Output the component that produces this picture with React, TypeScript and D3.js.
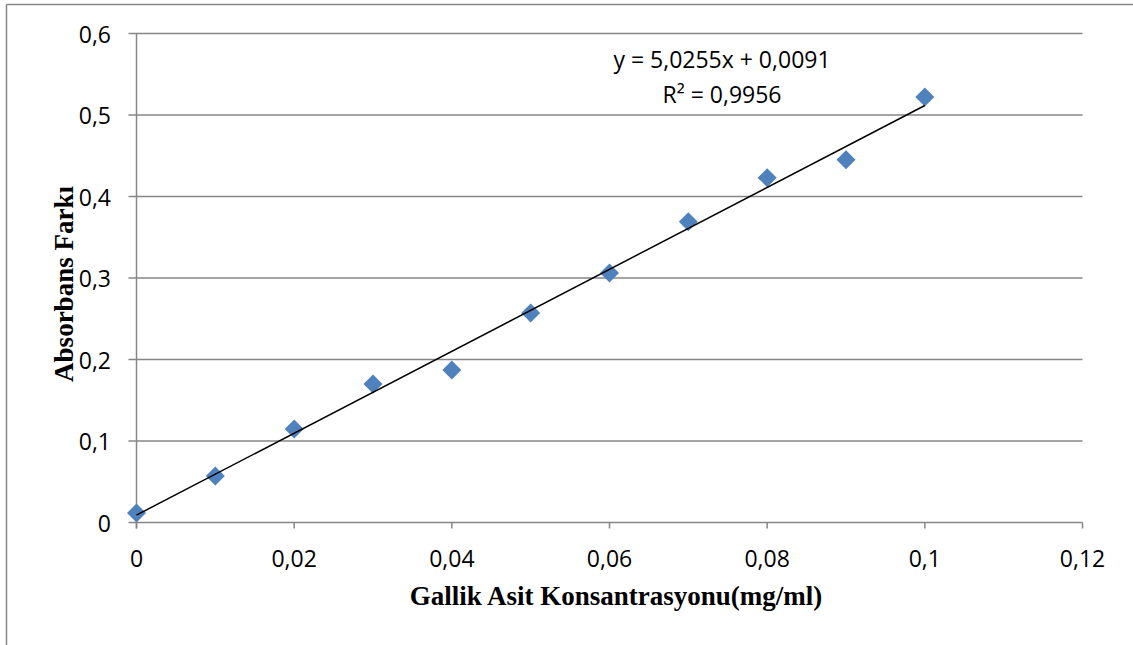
import React from "react";
import * as d3 from "d3";

// Gallic acid calibration data
const concentrations = [0, 0.01, 0.02, 0.03, 0.04, 0.05, 0.06, 0.07, 0.08, 0.09, 0.1];
const absorbance = [0.0117, 0.057, 0.1147, 0.170, 0.187, 0.257, 0.306, 0.369, 0.423, 0.445, 0.522];
const xTicks = [0, 0.02, 0.04, 0.06, 0.08, 0.1, 0.12];
const yTicks = [0, 0.1, 0.2, 0.3, 0.4, 0.5, 0.6];
const slope = 5.0255;
const intercept = 0.0091;
const equationText = "y = 5,0255x + 0,0091";
const r2Text = "R² = 0,9956";
const xTitle = "Gallik Asit Konsantrasyonu(mg/ml)";
const yTitle = "Absorbans Farkı";

const W = 1133;
const H = 645;
const plot = { left: 136.5, right: 1082.5, top: 33.5, bottom: 522.5 };

const fmt = (v: number) => String(+v.toFixed(2)).replace(".", ",");

export default function App() {
  const x = d3.scaleLinear().domain([0, 0.12]).range([plot.left, plot.right]);
  const y = d3.scaleLinear().domain([0, 0.6]).range([plot.bottom, plot.top]);
  const gray = "#868686";
  const tickFont = "'Open Sans', sans-serif";
  const titleFont = "'Liberation Serif', 'Times New Roman', serif";
  const trend = d3.line<number>().x((d) => x(d)).y((d) => y(slope * d + intercept));
  const diamond = d3.symbol().type(d3.symbolDiamond2).size(230)();

  return (
    <svg
      width={W}
      height={H}
      style={{ position: "fixed", left: 0, top: 0, background: "#fff" }}
    >
      {/* outer chart frame */}
      <line x1={6.5} y1={4.5} x2={W} y2={4.5} stroke={gray} strokeWidth={1.5} />
      <line x1={6.5} y1={4.5} x2={6.5} y2={H} stroke={gray} strokeWidth={1.5} />

      {/* horizontal gridlines with y ticks */}
      {yTicks.map((t) => (
        <g key={"y" + t}>
          <line x1={plot.left - 8} x2={plot.right} y1={y(t)} y2={y(t)} stroke={gray} strokeWidth={1.5} />
          <text
            x={111}
            y={y(t)}
            textAnchor="end"
            dominantBaseline="central"
            fontFamily={tickFont}
            fontSize={23}
            fill="#000"
          >
            {fmt(t)}
          </text>
        </g>
      ))}

      {/* axes */}
      <line x1={plot.left} x2={plot.left} y1={plot.top} y2={plot.bottom + 6} stroke={gray} strokeWidth={1.5} />
      {xTicks.map((t) => (
        <g key={"x" + t}>
          <line x1={x(t)} x2={x(t)} y1={plot.bottom} y2={plot.bottom + 6} stroke={gray} strokeWidth={1.5} />
          <text
            x={x(t)}
            y={567}
            textAnchor="middle"
            fontFamily={tickFont}
            fontSize={23}
            fill="#000"
          >
            {fmt(t)}
          </text>
        </g>
      ))}

      {/* markers */}
      {concentrations.map((c, i) => (
        <path
          key={"p" + i}
          d={diamond ?? ""}
          transform={`translate(${x(c)},${y(absorbance[i])})`}
          fill="#4F81BD"
        />
      ))}

      {/* linear trendline */}
      <path
        d={trend([concentrations[0], concentrations[concentrations.length - 1]]) ?? ""}
        fill="none"
        stroke="#000"
        strokeWidth={1.5}
      />

      {/* regression equation */}
      <text x={722} y={68} textAnchor="middle" fontFamily={tickFont} fontSize={23} fill="#000">
        {equationText}
      </text>
      <text x={722} y={103} textAnchor="middle" fontFamily={tickFont} fontSize={23} fill="#000">
        {r2Text}
      </text>

      {/* axis titles */}
      <text
        x={616}
        y={605}
        textAnchor="middle"
        fontFamily={titleFont}
        fontWeight="bold"
        fontSize={27}
        fill="#000"
      >
        {xTitle}
      </text>
      <text
        transform={`translate(73,${284}) rotate(-90)`}
        textAnchor="middle"
        fontFamily={titleFont}
        fontWeight="bold"
        fontSize={27}
        fill="#000"
      >
        {yTitle}
      </text>
    </svg>
  );
}
